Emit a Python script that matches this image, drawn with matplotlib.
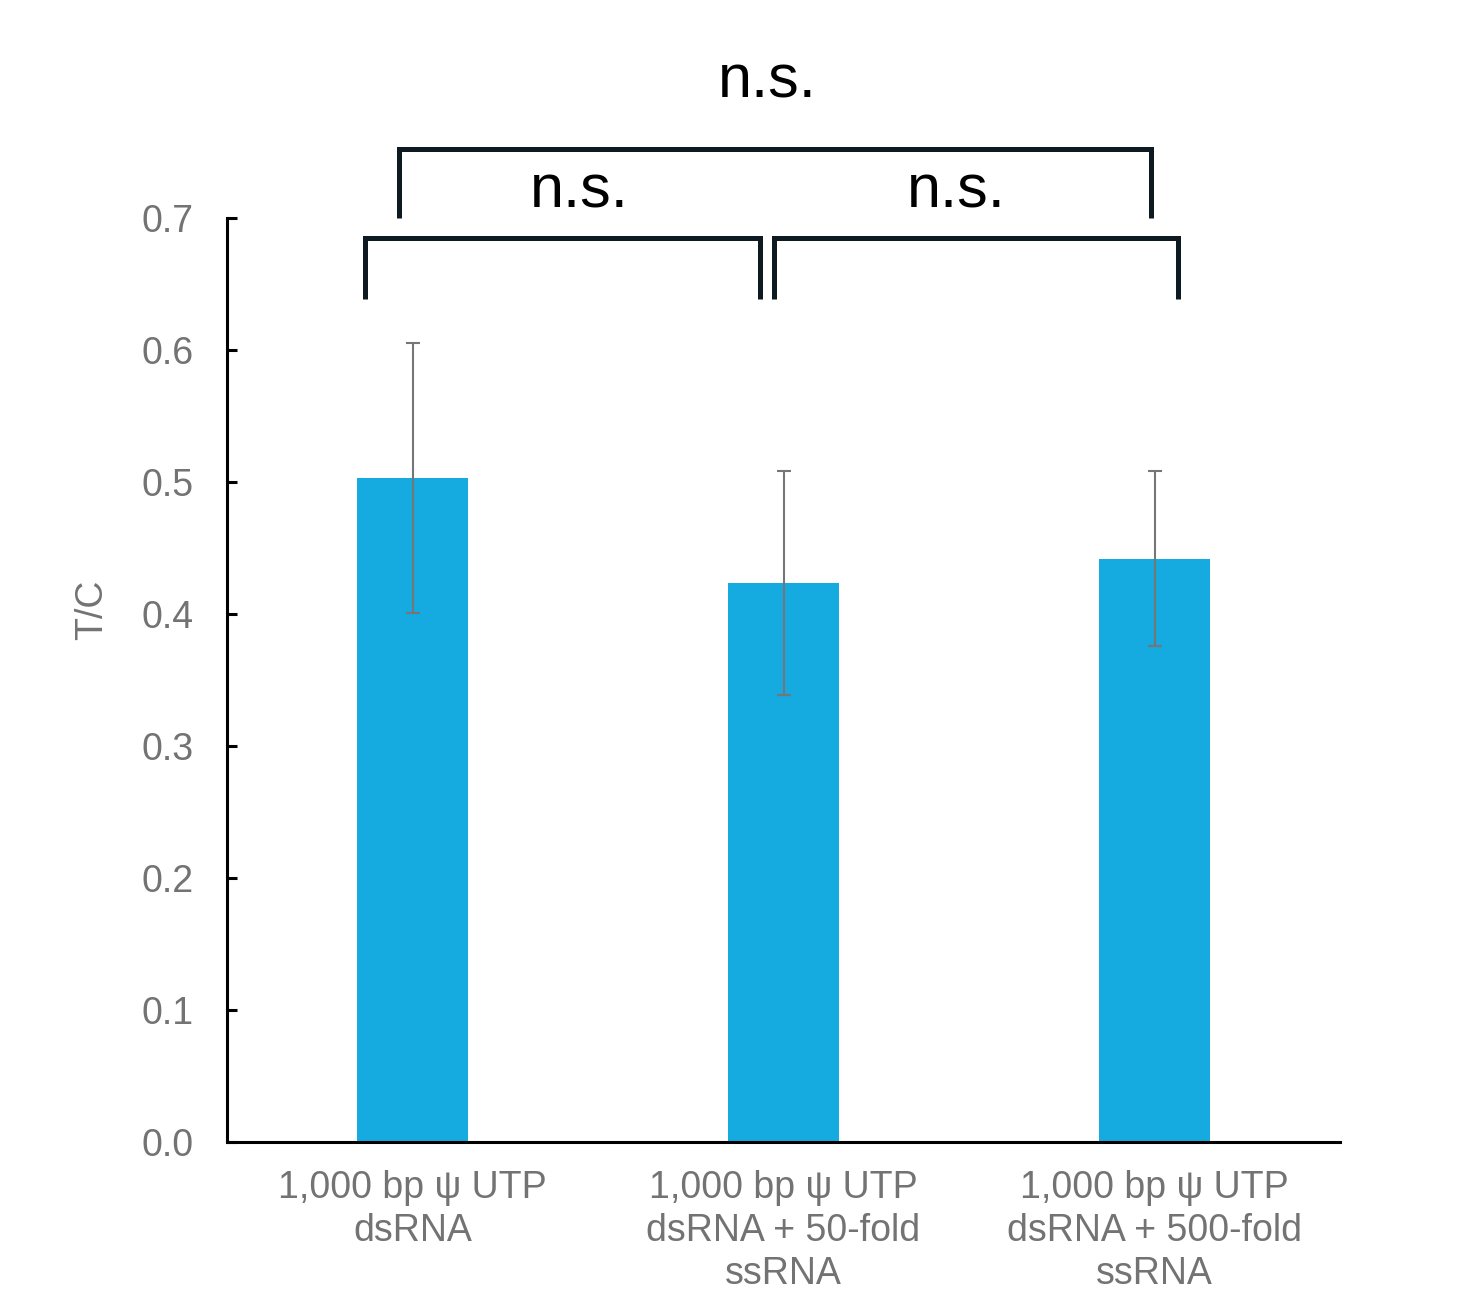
import matplotlib.pyplot as plt
import numpy as np

categories = ['1,000 bp ψ UTP\ndsRNA',
              '1,000 bp ψ UTP\ndsRNA + 50-fold\nssRNA',
              '1,000 bp ψ UTP\ndsRNA + 500-fold\nssRNA']
means = [0.503, 0.4235, 0.442]
errs = [0.102, 0.085, 0.066]

plt.rcParams['font.family'] = ['Liberation Sans', 'DejaVu Sans']
gray = '#737373'
dark = '#0d1a21'

fig = plt.figure(figsize=(14.82, 12.98), dpi=100)
ax = fig.add_axes([0.1532, 0.1202, 0.7510, 0.7118])
x = np.arange(len(categories))
ax.bar(x, means, width=0.30, color='#15aae0')
ax.errorbar(x, means, yerr=errs, fmt='none', ecolor='#767676',
            elinewidth=1.5, capsize=5, capthick=1.5)

ax.set_xlim(-0.5, 2.5)
ax.set_ylim(0, 0.7)
ax.set_yticks(np.arange(0, 0.71, 0.1))
ax.set_yticklabels(['%.1f' % v for v in np.arange(0, 0.71, 0.1)])
ax.set_xticks(x)
ax.set_xticklabels(categories, linespacing=1.25)
for s in ['top', 'right']:
    ax.spines[s].set_visible(False)
for s in ['left', 'bottom']:
    ax.spines[s].set_linewidth(2.2)
    ax.spines[s].set_color('black')
ax.tick_params(axis='y', direction='in', length=7, width=2.2,
               labelsize=27, labelcolor=gray, pad=24)
ax.tick_params(axis='x', length=0, labelsize=27, labelcolor=gray, pad=20)
ax.set_ylabel('T/C', fontsize=27, color=gray)
ax.yaxis.set_label_coords(-0.105, 0.576)

# significance brackets
def bracket(x0, x1, ytop, ybot):
    ax.plot([x0, x0, x1, x1], [ybot, ytop, ytop, ybot], color=dark,
            lw=3.6, clip_on=False, solid_joinstyle='miter',
            solid_capstyle='butt')

bracket(-0.128, 0.937, 0.685, 0.639)
bracket(0.974, 2.063, 0.685, 0.639)
bracket(-0.036, 1.99, 0.752, 0.700)

ns_x = [0.451, 1.467, 0.957]
ns_y = [0.708, 0.708, 0.791]
for tx, ty in zip(ns_x, ns_y):
    ax.text(tx, ty, 'n.s.', ha='center', va='baseline', fontsize=44,
            color='black', clip_on=False)

plt.savefig('out.png', dpi=100)
